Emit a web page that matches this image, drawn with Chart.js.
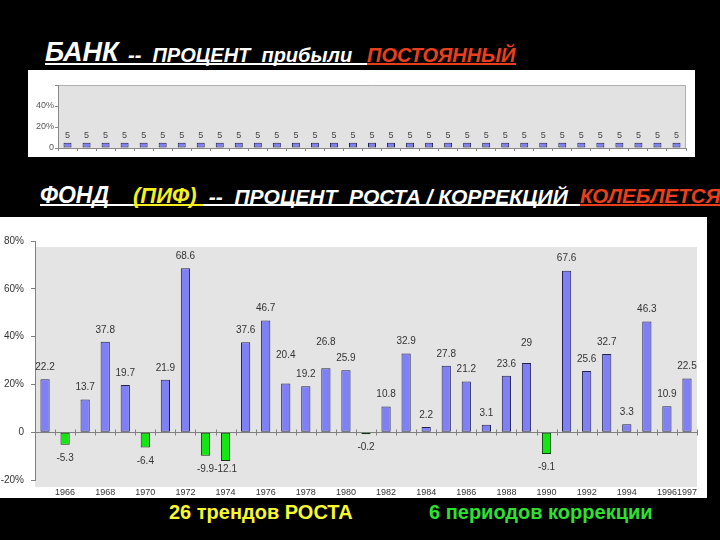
<!DOCTYPE html>
<html>
<head>
<meta charset="utf-8">
<script src="https://cdn.jsdelivr.net/npm/chart.js@4.4.0/dist/chart.umd.min.js"></script>
<style>
  body { margin: 0; background: #000; width: 720px; height: 540px; overflow: hidden; position: relative;
         font-family: "Liberation Sans", Arial, sans-serif; }
  .t { position: absolute; display: block; white-space: pre; font-weight: bold; font-style: italic;
       color: #fff; line-height: 1; border-bottom: 2px solid currentColor; }
  .panel { position: absolute; background: #fff; }
  .panel canvas { display: block; }
  .note { position: absolute; white-space: pre; font-weight: bold; font-size: 20px; line-height: 1; }
</style>
</head>
<body>

<span class="t" style="left:45px;top:39px;width:83px;height:24px;font-size:27px">БАНК</span>
<span class="t" style="left:128px;top:45px;width:239px;height:18px;font-size:20px">--  ПРОЦЕНТ  прибыли</span>
<span class="t" style="left:367px;top:45px;width:149px;height:18px;font-size:20px;color:#e8401c">ПОСТОЯННЫЙ</span>

<div class="panel" style="left:28px;top:70px;width:667px;height:87px">
  <canvas id="bankChart" width="667" height="87"></canvas>
</div>

<span class="t" style="left:40px;top:184px;width:93px;height:20px;font-size:23px">ФОНД</span>
<span class="t" style="left:133px;top:185px;width:70px;height:19px;font-size:22px;color:#f4f020">(ПИФ)</span>
<span class="t" style="left:203px;top:186px;width:377px;height:18px;font-size:21px"> --  ПРОЦЕНТ  РОСТА / КОРРЕКЦИЙ</span>
<span class="t" style="left:580px;top:186px;width:140px;height:18px;font-size:20.5px;color:#e8401c">КОЛЕБЛЕТСЯ</span>

<div class="panel" style="left:0;top:217px;width:707px;height:281px">
  <canvas id="fundChart" width="707" height="281"></canvas>
</div>

<div class="note" style="left:169px;top:502px;color:#f8f830">26 трендов РОСТА</div>
<div class="note" style="left:429px;top:502px;color:#30e030">6 периодов коррекции</div>

<script>
// --- данные ---
const years = ['1965', '1966', '1967', '1968', '1969', '1970', '1971', '1972', '1973', '1974', '1975',
  '1976', '1977', '1978', '1979', '1980', '1981', '1982', '1983', '1984', '1985', '1986', '1987',
  '1988', '1989', '1990', '1991', '1992', '1993', '1994', '1995', '1996', '1997'];

const yearLabels = ['1966', '1968', '1970', '1972', '1974', '1976', '1978', '1980', '1982', '1984',
  '1986', '1988', '1990', '1992', '1994', '1996', '1997'];

// банк: постоянные 5%
const bankRates = [5, 5, 5, 5, 5, 5, 5, 5, 5, 5, 5, 5, 5, 5, 5, 5, 5,
  5, 5, 5, 5, 5, 5, 5, 5, 5, 5, 5, 5, 5, 5, 5, 5];

// фонд: рост / коррекция по годам
const fundReturns = [22.2, -5.3, 13.7, 37.8, 19.7, -6.4, 21.9, 68.6, -9.9, -12.1, 37.6,
  46.7, 20.4, 19.2, 26.8, 25.9, -0.2, 10.8, 32.9, 2.2, 27.8, 21.2, 3.1,
  23.6, 29, -9.1, 67.6, 25.6, 32.7, 3.3, 46.3, 10.9, 22.5];

const bankTicks = [0, 20, 40];
const fundTicks = [-20, 0, 20, 40, 60, 80];

// подписи, сдвинутые вручную в оригинале (пиксели)
const labelLift = { 9: -5, 12: 16, 14: 14, 24: 8 };

const BLUE = '#8080f6';
const GREEN = '#14e614';
const FONT = '"Liberation Sans", Arial, sans-serif';

Chart.defaults.font.family = FONT;
Chart.defaults.animation = false;

// серый фон области построения
const plotBg = {
  id: 'plotBg',
  beforeDraw(chart, args, o) {
    const a = chart.chartArea, c = chart.ctx;
    const top = a.top + (o.top || 0), bottom = a.bottom + (o.bottom || 0);
    c.save();
    c.fillStyle = o.fill;
    c.fillRect(a.left, top, a.right - a.left, bottom - top);
    if (o.stroke) {
      c.strokeStyle = o.stroke;
      c.lineWidth = 1;
      c.beginPath();
      c.moveTo(a.left, top + 0.5);
      c.lineTo(a.right - 0.5, top + 0.5);
      c.lineTo(a.right - 0.5, bottom);
      c.stroke();
    }
    c.restore();
  }
};

// подписи значений над / под столбцами
const valueLabels = {
  id: 'valueLabels',
  afterDatasetsDraw(chart, args, o) {
    const c = chart.ctx;
    const data = chart.data.datasets[0].data;
    c.save();
    c.font = o.font;
    c.fillStyle = o.color;
    c.textAlign = 'center';
    c.textBaseline = 'middle';
    chart.getDatasetMeta(0).data.forEach((bar, i) => {
      const v = data[i];
      const lift = (o.lift && o.lift[i]) || 0;
      const y = v >= 0 ? bar.y - o.gapUp - lift : bar.y + o.gapDown + lift;
      c.fillText(String(v), bar.x, y);
    });
    c.restore();
  }
};

// засечки на нулевой линии между категориями
const zeroTicks = {
  id: 'zeroTicks',
  afterDatasetsDraw(chart) {
    const xs = chart.scales.x, y0 = Math.round(chart.scales.y.getPixelForValue(0)) + 0.5, c = chart.ctx;
    c.save();
    c.strokeStyle = '#808080';
    c.lineWidth = 1;
    c.beginPath();
    for (let i = 0; i <= chart.data.labels.length; i++) {
      const px = Math.round(xs.getPixelForValue(i - 0.5)) + 0.5;
      c.moveTo(px, y0 - 3);
      c.lineTo(px, y0 + 3);
    }
    c.stroke();
    c.restore();
  }
};

new Chart(document.getElementById('bankChart'), {
  type: 'bar',
  data: {
    labels: years,
    datasets: [{
      data: bankRates,
      backgroundColor: BLUE,
      borderColor: '#22224a',
      borderWidth: 1,
      borderSkipped: false,
      barPercentage: 0.42,
      categoryPercentage: 1
    }]
  },
  options: {
    responsive: false,
    layout: { padding: { top: 15, right: 9, left: 0, bottom: 0 } },
    plugins: {
      legend: { display: false },
      tooltip: { enabled: false },
      plotBg: { fill: '#e2e2e2', stroke: '#b0b0b0' },
      valueLabels: { font: '9px ' + FONT, color: '#444', gapUp: 7, gapDown: 7 }
    },
    scales: {
      x: {
        ticks: { display: false },
        grid: { drawOnChartArea: false, tickLength: 3, color: '#888' },
        border: { color: '#888' },
        afterFit: s => { s.height = 9; }
      },
      y: {
        min: 0, max: 60,
        afterBuildTicks: s => { s.ticks = [0, 20, 40, 60].map(v => ({ value: v })); },
        ticks: {
          font: { size: 9 }, color: '#555', padding: 1,
          callback: v => bankTicks.includes(v) ? (v === 0 ? '0' : v + '%') : ''
        },
        grid: { drawOnChartArea: false, tickLength: 3, color: '#888' },
        border: { color: '#888' },
        afterFit: s => { s.width = 30; }
      }
    }
  },
  plugins: [plotBg, valueLabels]
});

new Chart(document.getElementById('fundChart'), {
  type: 'bar',
  data: {
    labels: years,
    datasets: [{
      data: fundReturns,
      backgroundColor: fundReturns.map(v => v < 0 ? GREEN : BLUE),
      borderColor: fundReturns.map(v => v < 0 ? '#0c3a0c' : '#22224a'),
      borderWidth: 1,
      borderSkipped: false,
      minBarLength: 2,
      barPercentage: 0.46,
      categoryPercentage: 1
    }]
  },
  options: {
    responsive: false,
    layout: { padding: { top: 24, right: 10, left: 0, bottom: 0 } },
    plugins: {
      legend: { display: false },
      tooltip: { enabled: false },
      plotBg: { fill: '#e4e4e4', top: 6, bottom: 7 },
      valueLabels: { font: '10px ' + FONT, color: '#333', gapUp: 12, gapDown: 13.5, lift: labelLift }
    },
    scales: {
      x: {
        ticks: {
          autoSkip: false, maxRotation: 0, font: { size: 9 }, color: '#333', padding: 7,
          callback: function (v) {
            const lab = this.getLabelForValue(v);
            return yearLabels.includes(lab) ? lab : '';
          }
        },
        grid: { display: false, drawTicks: false },
        border: { display: false },
        afterFit: s => { s.height = 18; }
      },
      y: {
        min: -20, max: 80,
        afterBuildTicks: s => { s.ticks = fundTicks.map(v => ({ value: v })); },
        ticks: {
          font: { size: 10 }, color: '#333', padding: 7,
          callback: v => v === 0 ? '0' : v + '%'
        },
        grid: {
          drawOnChartArea: true, tickLength: 4, tickColor: '#808080',
          color: c => c.tick && c.tick.value === 0 ? '#808080' : 'rgba(0,0,0,0)'
        },
        border: { color: '#808080' },
        afterFit: s => { s.width = 35; }
      }
    }
  },
  plugins: [plotBg, valueLabels, zeroTicks]
});
</script>
</body>
</html>
